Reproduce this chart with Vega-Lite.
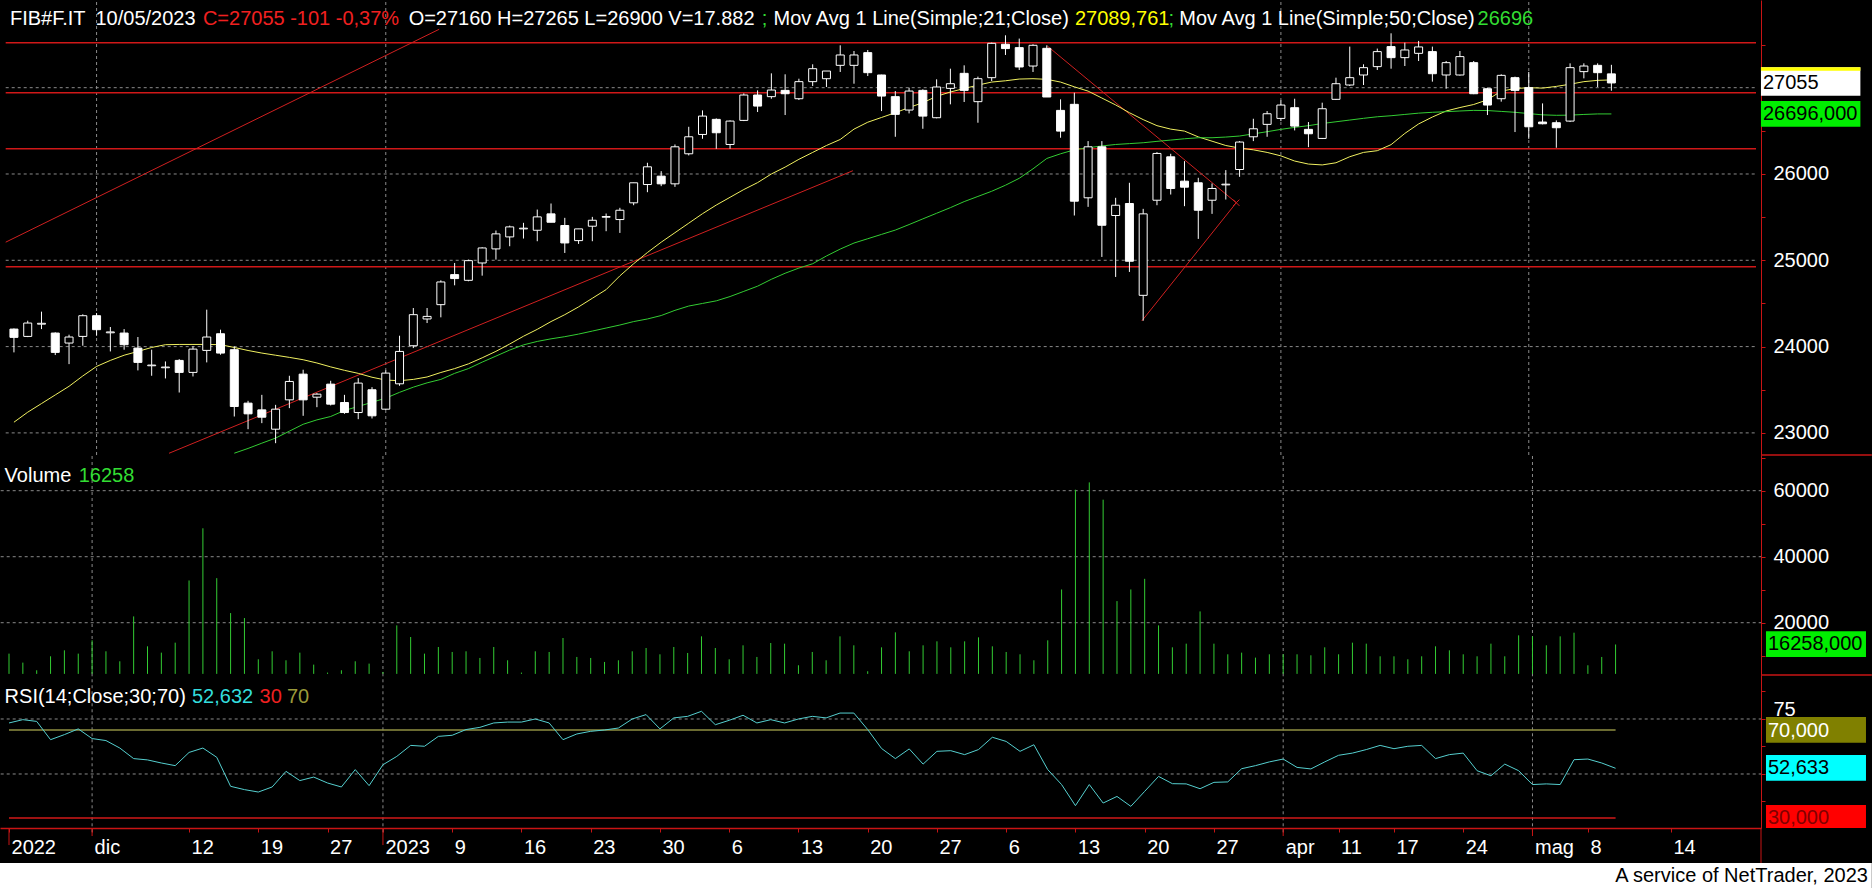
{
"$schema": "https://vega.github.io/schema/vega-lite/v6.json",
"background": "black",
"padding": 0,
"bounds": "flush",
"spacing": 0,
"config": {
 "view": {"stroke": null},
 "axis": {"labelFont": "Liberation Sans", "titleFont": "Liberation Sans"},
 "axisY": {"domainColor": "#c81414", "tickColor": "#c81414", "tickSize": 4, "labelColor": "white", "labelFontSize": 20, "labelPadding": 8, "labelAlign": "left", "labelBaseline": "middle", "grid": false, "labelBound": false, "labelFlush": false, "labelOverlap": false},
 "axisX": {"domainColor": "#c81414", "domainWidth": 1.5, "tickColor": "#c81414", "tickSize": 4, "labelColor": "white", "labelFontSize": 20, "labelPadding": 5, "labelAlign": "left", "labelBaseline": "top", "labelOffset": 2, "grid": false, "labelBound": false, "labelFlush": false, "labelOverlap": false},
 "text": {"font": "Liberation Sans", "fontSize": 20, "align": "left", "baseline": "alphabetic"}
},
"resolve": {"scale": {"x": "independent", "y": "independent"}, "axis": {"x": "independent", "y": "independent"}},
"datasets": {
 "tl": [
  {"g":"a","k":0,"i":-0.6,"p":25210},{"g":"a","k":1,"i":30.88,"p":27677},
  {"g":"b","k":0,"i":11.26,"p":22764},{"g":"b","k":1,"i":60.92,"p":26038},
  {"g":"c","k":0,"i":75.04,"p":27483},{"g":"c","k":1,"i":88.76,"p":25667},{"g":"c","k":2,"i":81.9,"p":24297}
 ],
 "bars": [
{"i":0,"o":24203,"h":24210,"l":23933,"c":24107,"m1":23124,"m5":null,"v":10629,"r":73.2},
{"i":1,"o":24118,"h":24300,"l":24110,"c":24273,"m1":23240,"m5":null,"v":7909,"r":74.7},
{"i":2,"o":24260,"h":24405,"l":24203,"c":24270,"m1":23340,"m5":null,"v":5591,"r":73.9},
{"i":3,"o":24157,"h":24165,"l":23902,"c":23933,"m1":23440,"m5":null,"v":9823,"r":65.6},
{"i":4,"o":24041,"h":24138,"l":23797,"c":24111,"m1":23540,"m5":null,"v":11637,"r":67.9},
{"i":5,"o":24118,"h":24374,"l":24010,"c":24358,"m1":23660,"m5":null,"v":10629,"r":70.5},
{"i":6,"o":24358,"h":24389,"l":24126,"c":24196,"m1":23770,"m5":null,"v":14660,"r":66.1},
{"i":7,"o":24160,"h":24227,"l":23944,"c":24170,"m1":23840,"m5":null,"v":11335,"r":65.2},
{"i":8,"o":24157,"h":24203,"l":23964,"c":24022,"m1":23900,"m5":null,"v":8312,"r":61.8},
{"i":9,"o":23983,"h":24111,"l":23724,"c":23817,"m1":23944,"m5":null,"v":21914,"r":57.0},
{"i":10,"o":23778,"h":23964,"l":23662,"c":23786,"m1":23990,"m5":null,"v":12846,"r":56.4},
{"i":11,"o":23755,"h":23828,"l":23631,"c":23763,"m1":24022,"m5":null,"v":10932,"r":55.0},
{"i":12,"o":23840,"h":23855,"l":23468,"c":23701,"m1":24025,"m5":null,"v":13954,"r":53.8},
{"i":13,"o":23701,"h":24002,"l":23654,"c":23971,"m1":24025,"m5":null,"v":32797,"r":59.8},
{"i":14,"o":23956,"h":24428,"l":23817,"c":24111,"m1":24025,"m5":null,"v":48616,"r":61.8},
{"i":15,"o":24149,"h":24196,"l":23906,"c":23925,"m1":24022,"m5":null,"v":33502,"r":57.6},
{"i":16,"o":23964,"h":24002,"l":23190,"c":23306,"m1":23990,"m5":22765,"v":22922,"r":44.4},
{"i":17,"o":23345,"h":23372,"l":23043,"c":23221,"m1":23955,"m5":22820,"v":21411,"r":42.9},
{"i":18,"o":23267,"h":23441,"l":23113,"c":23182,"m1":23925,"m5":22881,"v":8916,"r":41.8},
{"i":19,"o":23043,"h":23325,"l":22881,"c":23275,"m1":23900,"m5":22940,"v":11335,"r":44.1},
{"i":20,"o":23383,"h":23662,"l":23287,"c":23596,"m1":23875,"m5":23020,"v":8614,"r":51.2},
{"i":21,"o":23681,"h":23732,"l":23198,"c":23383,"m1":23848,"m5":23100,"v":10932,"r":47.0},
{"i":22,"o":23414,"h":23461,"l":23298,"c":23449,"m1":23810,"m5":23151,"v":7304,"r":48.6},
{"i":23,"o":23565,"h":23604,"l":23318,"c":23333,"m1":23765,"m5":23190,"v":4886,"r":45.9},
{"i":24,"o":23352,"h":23441,"l":23221,"c":23236,"m1":23725,"m5":23260,"v":5591,"r":44.1},
{"i":25,"o":23236,"h":23635,"l":23159,"c":23577,"m1":23690,"m5":23306,"v":8312,"r":52.0},
{"i":26,"o":23500,"h":23530,"l":23167,"c":23198,"m1":23645,"m5":23355,"v":7607,"r":44.7},
{"i":27,"o":23275,"h":23724,"l":23267,"c":23693,"m1":23612,"m5":23403,"v":5087,"r":54.2},
{"i":28,"o":23569,"h":24126,"l":23546,"c":23944,"m1":23605,"m5":23470,"v":19194,"r":58.0},
{"i":29,"o":24010,"h":24447,"l":23983,"c":24370,"m1":23620,"m5":23530,"v":15667,"r":63.0},
{"i":30,"o":24320,"h":24447,"l":24273,"c":24350,"m1":23648,"m5":23580,"v":10629,"r":62.6},
{"i":31,"o":24486,"h":24768,"l":24339,"c":24749,"m1":23700,"m5":23620,"v":12644,"r":67.1},
{"i":32,"o":24834,"h":24969,"l":24710,"c":24788,"m1":23745,"m5":23690,"v":11133,"r":67.6},
{"i":33,"o":24768,"h":25008,"l":24757,"c":24996,"m1":23800,"m5":23745,"v":11335,"r":70.2},
{"i":34,"o":24969,"h":25151,"l":24822,"c":25143,"m1":23870,"m5":23820,"v":9319,"r":71.2},
{"i":35,"o":25132,"h":25345,"l":25008,"c":25306,"m1":23945,"m5":23890,"v":12644,"r":73.2},
{"i":36,"o":25271,"h":25402,"l":25163,"c":25387,"m1":24030,"m5":23960,"v":8614,"r":73.6},
{"i":37,"o":25364,"h":25434,"l":25252,"c":25372,"m1":24120,"m5":24020,"v":4886,"r":73.6},
{"i":38,"o":25348,"h":25588,"l":25221,"c":25503,"m1":24200,"m5":24060,"v":11335,"r":75.0},
{"i":39,"o":25538,"h":25658,"l":25441,"c":25441,"m1":24290,"m5":24090,"v":11133,"r":73.2},
{"i":40,"o":25403,"h":25492,"l":25085,"c":25201,"m1":24370,"m5":24115,"v":15365,"r":65.6},
{"i":41,"o":25228,"h":25364,"l":25190,"c":25364,"m1":24460,"m5":24145,"v":9621,"r":68.2},
{"i":42,"o":25395,"h":25503,"l":25221,"c":25464,"m1":24560,"m5":24180,"v":9319,"r":69.4},
{"i":43,"o":25499,"h":25542,"l":25337,"c":25507,"m1":24660,"m5":24215,"v":8111,"r":70.0},
{"i":44,"o":25472,"h":25608,"l":25317,"c":25580,"m1":24820,"m5":24250,"v":8614,"r":70.9},
{"i":45,"o":25666,"h":25898,"l":25638,"c":25898,"m1":24960,"m5":24290,"v":11335,"r":75.0},
{"i":46,"o":25878,"h":26130,"l":25789,"c":26083,"m1":25090,"m5":24320,"v":12342,"r":77.0},
{"i":47,"o":25975,"h":26033,"l":25859,"c":25886,"m1":25210,"m5":24360,"v":10428,"r":70.5},
{"i":48,"o":25886,"h":26342,"l":25851,"c":26315,"m1":25320,"m5":24420,"v":12644,"r":75.5},
{"i":49,"o":26234,"h":26547,"l":26215,"c":26431,"m1":25430,"m5":24470,"v":10831,"r":76.2},
{"i":50,"o":26458,"h":26737,"l":26408,"c":26671,"m1":25540,"m5":24500,"v":15869,"r":78.5},
{"i":51,"o":26633,"h":26644,"l":26292,"c":26478,"m1":25640,"m5":24530,"v":12342,"r":72.4},
{"i":52,"o":26342,"h":26621,"l":26292,"c":26613,"m1":25730,"m5":24580,"v":8916,"r":74.4},
{"i":53,"o":26621,"h":26934,"l":26613,"c":26915,"m1":25820,"m5":24640,"v":13148,"r":76.7},
{"i":54,"o":26915,"h":26969,"l":26718,"c":26787,"m1":25900,"m5":24700,"v":9621,"r":73.2},
{"i":55,"o":26896,"h":27166,"l":26872,"c":26973,"m1":26000,"m5":24780,"v":13853,"r":74.7},
{"i":56,"o":26969,"h":27155,"l":26683,"c":26930,"m1":26080,"m5":24850,"v":13652,"r":73.2},
{"i":57,"o":26872,"h":27104,"l":26857,"c":27070,"m1":26170,"m5":24910,"v":7103,"r":75.0},
{"i":58,"o":27070,"h":27271,"l":27019,"c":27220,"m1":26250,"m5":24960,"v":11133,"r":76.2},
{"i":59,"o":27104,"h":27193,"l":27008,"c":27193,"m1":26330,"m5":25050,"v":8614,"r":75.5},
{"i":60,"o":27259,"h":27491,"l":27182,"c":27379,"m1":26400,"m5":25130,"v":15869,"r":77.7},
{"i":61,"o":27259,"h":27425,"l":27046,"c":27379,"m1":26520,"m5":25200,"v":13148,"r":77.7},
{"i":62,"o":27406,"h":27437,"l":27135,"c":27174,"m1":26600,"m5":25250,"v":5289,"r":70.2},
{"i":63,"o":27147,"h":27150,"l":26729,"c":26903,"m1":26655,"m5":25300,"v":12540,"r":61.6},
{"i":64,"o":26896,"h":26961,"l":26431,"c":26691,"m1":26710,"m5":25350,"v":17080,"r":57.0},
{"i":65,"o":26741,"h":27000,"l":26702,"c":26961,"m1":26770,"m5":25414,"v":11335,"r":61.4},
{"i":66,"o":26969,"h":26981,"l":26524,"c":26671,"m1":26826,"m5":25480,"v":13148,"r":54.5},
{"i":67,"o":26652,"h":27097,"l":26645,"c":27008,"m1":26900,"m5":25545,"v":14358,"r":60.3},
{"i":68,"o":26992,"h":27220,"l":26807,"c":27046,"m1":26950,"m5":25610,"v":12544,"r":60.6},
{"i":69,"o":27166,"h":27259,"l":26834,"c":26969,"m1":26990,"m5":25680,"v":14358,"r":58.8},
{"i":70,"o":26838,"h":27128,"l":26594,"c":27104,"m1":27030,"m5":25740,"v":15567,"r":61.1},
{"i":71,"o":27116,"h":27522,"l":27077,"c":27514,"m1":27065,"m5":25800,"v":12846,"r":66.7},
{"i":72,"o":27503,"h":27607,"l":27379,"c":27453,"m1":27080,"m5":25870,"v":11133,"r":64.8},
{"i":73,"o":27464,"h":27569,"l":27205,"c":27240,"m1":27100,"m5":25950,"v":10428,"r":60.3},
{"i":74,"o":27251,"h":27503,"l":27182,"c":27491,"m1":27104,"m5":26060,"v":8614,"r":63.3},
{"i":75,"o":27456,"h":27491,"l":26892,"c":26892,"m1":27097,"m5":26180,"v":14660,"r":52.0},
{"i":76,"o":26737,"h":26865,"l":26420,"c":26497,"m1":27065,"m5":26234,"v":30076,"r":45.2},
{"i":77,"o":26807,"h":26942,"l":25519,"c":25685,"m1":27010,"m5":26280,"v":60304,"r":35.6},
{"i":78,"o":25724,"h":26381,"l":25619,"c":26315,"m1":26960,"m5":26304,"v":62521,"r":45.2},
{"i":79,"o":26315,"h":26381,"l":25039,"c":25406,"m1":26880,"m5":26325,"v":57281,"r":36.8},
{"i":80,"o":25519,"h":25724,"l":24807,"c":25638,"m1":26800,"m5":26342,"v":26549,"r":39.8},
{"i":81,"o":25658,"h":25898,"l":24865,"c":24989,"m1":26710,"m5":26352,"v":30076,"r":35.3},
{"i":82,"o":24594,"h":25596,"l":24300,"c":25538,"m1":26630,"m5":26362,"v":33300,"r":42.1},
{"i":83,"o":25696,"h":26253,"l":25638,"c":26238,"m1":26560,"m5":26378,"v":19194,"r":48.9},
{"i":84,"o":26199,"h":26234,"l":25762,"c":25832,"m1":26520,"m5":26393,"v":12544,"r":45.6},
{"i":85,"o":25917,"h":26149,"l":25627,"c":25847,"m1":26497,"m5":26408,"v":13652,"r":45.5},
{"i":86,"o":25898,"h":25956,"l":25248,"c":25580,"m1":26430,"m5":26420,"v":23426,"r":43.3},
{"i":87,"o":25696,"h":25890,"l":25538,"c":25832,"m1":26380,"m5":26420,"v":13652,"r":46.2},
{"i":88,"o":25874,"h":26045,"l":25704,"c":25882,"m1":26330,"m5":26428,"v":10428,"r":46.4},
{"i":89,"o":26052,"h":26381,"l":25967,"c":26370,"m1":26300,"m5":26440,"v":10932,"r":52.4},
{"i":90,"o":26431,"h":26640,"l":26381,"c":26524,"m1":26280,"m5":26465,"v":9420,"r":53.8},
{"i":91,"o":26575,"h":26729,"l":26431,"c":26698,"m1":26250,"m5":26490,"v":10428,"r":55.5},
{"i":92,"o":26644,"h":26853,"l":26613,"c":26799,"m1":26210,"m5":26517,"v":10428,"r":56.8},
{"i":93,"o":26768,"h":26872,"l":26505,"c":26555,"m1":26150,"m5":26540,"v":10428,"r":53.0},
{"i":94,"o":26517,"h":26602,"l":26311,"c":26466,"m1":26115,"m5":26560,"v":10125,"r":52.3},
{"i":95,"o":26412,"h":26826,"l":26405,"c":26756,"m1":26105,"m5":26585,"v":12544,"r":55.5},
{"i":96,"o":26865,"h":27116,"l":26857,"c":27046,"m1":26130,"m5":26605,"v":10428,"r":58.5},
{"i":97,"o":27031,"h":27476,"l":27019,"c":27116,"m1":26200,"m5":26625,"v":13954,"r":59.5},
{"i":98,"o":27147,"h":27271,"l":27031,"c":27232,"m1":26250,"m5":26645,"v":13652,"r":61.1},
{"i":99,"o":27244,"h":27453,"l":27205,"c":27418,"m1":26270,"m5":26663,"v":9823,"r":63.0},
{"i":100,"o":27476,"h":27630,"l":27220,"c":27348,"m1":26340,"m5":26675,"v":9823,"r":61.5},
{"i":101,"o":27348,"h":27522,"l":27251,"c":27437,"m1":26470,"m5":26690,"v":8916,"r":62.6},
{"i":102,"o":27398,"h":27542,"l":27309,"c":27472,"m1":26580,"m5":26705,"v":9823,"r":63.0},
{"i":103,"o":27418,"h":27476,"l":27070,"c":27162,"m1":26660,"m5":26715,"v":12846,"r":57.0},
{"i":104,"o":27147,"h":27309,"l":26988,"c":27290,"m1":26730,"m5":26722,"v":11637,"r":58.8},
{"i":105,"o":27147,"h":27425,"l":27140,"c":27360,"m1":26770,"m5":26730,"v":10428,"r":59.5},
{"i":106,"o":27290,"h":27309,"l":26925,"c":26930,"m1":26805,"m5":26737,"v":9823,"r":51.5},
{"i":107,"o":26988,"h":27000,"l":26683,"c":26799,"m1":26860,"m5":26735,"v":13652,"r":49.2},
{"i":108,"o":26872,"h":27155,"l":26838,"c":27143,"m1":26960,"m5":26725,"v":9823,"r":54.5},
{"i":109,"o":27116,"h":27128,"l":26486,"c":26969,"m1":26990,"m5":26715,"v":16171,"r":51.5},
{"i":110,"o":27000,"h":27182,"l":26408,"c":26547,"m1":27000,"m5":26700,"v":15869,"r":45.2},
{"i":111,"o":26602,"h":26818,"l":26575,"c":26582,"m1":26995,"m5":26685,"v":13148,"r":45.5},
{"i":112,"o":26594,"h":26621,"l":26304,"c":26536,"m1":27015,"m5":26680,"v":15869,"r":45.2},
{"i":113,"o":26613,"h":27282,"l":26602,"c":27232,"m1":27040,"m5":26682,"v":16977,"r":56.5},
{"i":114,"o":27186,"h":27282,"l":27108,"c":27251,"m1":27070,"m5":26690,"v":7103,"r":56.8},
{"i":115,"o":27259,"h":27282,"l":27008,"c":27174,"m1":27085,"m5":26696,"v":9621,"r":55.0},
{"i":116,"o":27160,"h":27265,"l":26965,"c":27055,"m1":27090,"m5":26696,"v":13400,"r":52.6}
 ]
},
"vconcat": [
{
 "width": 1761, "height": 455,
 "resolve": {"axis": {"x": "independent", "y": "independent"}},
 "layer": [
  {"data": {"values": [{"p":23000},{"p":24000},{"p":25000},{"p":26000},{"p":27000}]},
   "mark": {"type": "rule", "color": "#8a8a8a", "strokeDash": [3,3], "strokeWidth": 1},
   "encoding": {
    "y": {"field": "p", "type": "quantitative", "title": null, "scale": {"domain": [22744,28016], "nice": false, "zero": false},
          "axis": {"orient": "right", "values": [23000,23500,24000,24500,25000,25500,26000,26500,27000,27500], "format": "d", "labelExpr": "datum.value % 1000 === 0 && datum.value < 27000 ? datum.label : ''"}},
    "x": {"datum": -0.6, "type": "quantitative", "scale": {"domain": [-0.65,126.5], "nice": false, "zero": false}, "axis": null},
    "x2": {"datum": 126.5}}},
  {"data": {"values": [{"i":6},{"i":27},{"i":92},{"i":110}]},
   "mark": {"type": "rule", "color": "#8a8a8a", "strokeDash": [3,3], "strokeWidth": 1},
   "encoding": {
    "x": {"field": "i", "type": "quantitative", "scale": {"domain": [-0.65,126.5], "nice": false, "zero": false}, "axis": null},
    "y": {"datum": 22744, "type": "quantitative", "scale": {"domain": [22744,28016], "nice": false, "zero": false}, "axis": null},
    "y2": {"datum": 28005}}},
  {"data": {"values": [{"p":27521},{"p":26942},{"p":26293},{"p":24926}]},
   "mark": {"type": "rule", "color": "#d01818", "strokeWidth": 1.5},
   "encoding": {
    "y": {"field": "p", "type": "quantitative", "scale": {"domain": [22744,28016], "nice": false, "zero": false}, "axis": null},
    "x": {"datum": -0.6, "type": "quantitative", "scale": {"domain": [-0.65,126.5], "nice": false, "zero": false}, "axis": null},
    "x2": {"datum": 126.5}}},
  {"data": {"name": "tl"},
   "mark": {"type": "line", "color": "#d02020", "strokeWidth": 1},
   "encoding": {
    "x": {"field": "i", "type": "quantitative", "scale": {"domain": [-0.65,126.5], "nice": false, "zero": false}, "axis": null},
    "y": {"field": "p", "type": "quantitative", "scale": {"domain": [22744,28016], "nice": false, "zero": false}, "axis": null},
    "detail": {"field": "g", "type": "nominal"},
    "order": {"field": "k", "type": "quantitative"}}},
  {"data": {"values": [{}]},
   "mark": {"type": "point", "shape": "M-1,-1L1,1M1,-1L-1,1", "size": 40, "color": "#d02020", "filled": false, "strokeWidth": 1, "opacity": 1},
   "encoding": {
    "x": {"datum": 88.76, "type": "quantitative", "scale": {"domain": [-0.65,126.5], "nice": false, "zero": false}, "axis": null},
    "y": {"datum": 25667, "type": "quantitative", "scale": {"domain": [22744,28016], "nice": false, "zero": false}, "axis": null}}},
  {"data": {"name": "bars"},
   "mark": {"type": "line", "color": "#f0f060", "strokeWidth": 1},
   "encoding": {
    "x": {"field": "i", "type": "quantitative", "scale": {"domain": [-0.65,126.5], "nice": false, "zero": false}, "axis": null},
    "y": {"field": "m1", "type": "quantitative", "scale": {"domain": [22744,28016], "nice": false, "zero": false}, "axis": null}}},
  {"data": {"name": "bars"},
   "mark": {"type": "line", "color": "#33cc33", "strokeWidth": 1},
   "encoding": {
    "x": {"field": "i", "type": "quantitative", "scale": {"domain": [-0.65,126.5], "nice": false, "zero": false}, "axis": null},
    "y": {"field": "m5", "type": "quantitative", "scale": {"domain": [22744,28016], "nice": false, "zero": false}, "axis": null}}},
  {"data": {"name": "bars"},
   "mark": {"type": "rule", "color": "white", "strokeWidth": 1},
   "encoding": {
    "x": {"field": "i", "type": "quantitative", "scale": {"domain": [-0.65,126.5], "nice": false, "zero": false}, "axis": null},
    "y": {"field": "l", "type": "quantitative", "scale": {"domain": [22744,28016], "nice": false, "zero": false}, "axis": null},
    "y2": {"field": "h"}}},
  {"data": {"name": "bars"},
   "mark": {"type": "bar", "size": 8, "stroke": "white", "strokeWidth": 1},
   "encoding": {
    "x": {"field": "i", "type": "quantitative", "scale": {"domain": [-0.65,126.5], "nice": false, "zero": false}, "axis": null},
    "y": {"field": "o", "type": "quantitative", "scale": {"domain": [22744,28016], "nice": false, "zero": false}, "axis": null},
    "y2": {"field": "c"},
    "fill": {"condition": {"test": "datum.c < datum.o", "value": "white"}, "value": "black"}}},
  {"data": {"values": [{}]}, "mark": {"type": "text", "color": "white", "text": "FIB#F.IT"},
   "encoding": {"x": {"datum": -0.289, "type": "quantitative", "scale": {"domain": [-0.65,126.5], "nice": false, "zero": false}, "axis": null},
    "y": {"datum": 27727, "type": "quantitative", "scale": {"domain": [22744,28016], "nice": false, "zero": false}, "axis": null}}},
  {"data": {"values": [{}]}, "mark": {"type": "text", "color": "white", "text": "10/05/2023"},
   "encoding": {"x": {"datum": 5.92, "type": "quantitative", "scale": {"domain": [-0.65,126.5], "nice": false, "zero": false}, "axis": null},
    "y": {"datum": 27727, "type": "quantitative", "scale": {"domain": [22744,28016], "nice": false, "zero": false}, "axis": null}}},
  {"data": {"values": [{}]}, "mark": {"type": "text", "color": "#f02020", "text": "C=27055 -101 -0,37%"},
   "encoding": {"x": {"datum": 13.72, "type": "quantitative", "scale": {"domain": [-0.65,126.5], "nice": false, "zero": false}, "axis": null},
    "y": {"datum": 27727, "type": "quantitative", "scale": {"domain": [22744,28016], "nice": false, "zero": false}, "axis": null}}},
  {"data": {"values": [{}]}, "mark": {"type": "text", "color": "white", "text": "O=27160 H=27265 L=26900 V=17.882"},
   "encoding": {"x": {"datum": 28.66, "type": "quantitative", "scale": {"domain": [-0.65,126.5], "nice": false, "zero": false}, "axis": null},
    "y": {"datum": 27727, "type": "quantitative", "scale": {"domain": [22744,28016], "nice": false, "zero": false}, "axis": null}}},
  {"data": {"values": [{}]}, "mark": {"type": "text", "color": "#33dd33", "text": ";"},
   "encoding": {"x": {"datum": 54.3, "type": "quantitative", "scale": {"domain": [-0.65,126.5], "nice": false, "zero": false}, "axis": null},
    "y": {"datum": 27727, "type": "quantitative", "scale": {"domain": [22744,28016], "nice": false, "zero": false}, "axis": null}}},
  {"data": {"values": [{}]}, "mark": {"type": "text", "color": "white", "text": "Mov Avg 1 Line(Simple;21;Close)"},
   "encoding": {"x": {"datum": 55.16, "type": "quantitative", "scale": {"domain": [-0.65,126.5], "nice": false, "zero": false}, "axis": null},
    "y": {"datum": 27727, "type": "quantitative", "scale": {"domain": [22744,28016], "nice": false, "zero": false}, "axis": null}}},
  {"data": {"values": [{}]}, "mark": {"type": "text", "color": "#ffff00", "text": "27089,761"},
   "encoding": {"x": {"datum": 77.04, "type": "quantitative", "scale": {"domain": [-0.65,126.5], "nice": false, "zero": false}, "axis": null},
    "y": {"datum": 27727, "type": "quantitative", "scale": {"domain": [22744,28016], "nice": false, "zero": false}, "axis": null}}},
  {"data": {"values": [{}]}, "mark": {"type": "text", "color": "#33dd33", "text": ";"},
   "encoding": {"x": {"datum": 83.83, "type": "quantitative", "scale": {"domain": [-0.65,126.5], "nice": false, "zero": false}, "axis": null},
    "y": {"datum": 27727, "type": "quantitative", "scale": {"domain": [22744,28016], "nice": false, "zero": false}, "axis": null}}},
  {"data": {"values": [{}]}, "mark": {"type": "text", "color": "white", "text": "Mov Avg 1 Line(Simple;50;Close)"},
   "encoding": {"x": {"datum": 84.62, "type": "quantitative", "scale": {"domain": [-0.65,126.5], "nice": false, "zero": false}, "axis": null},
    "y": {"datum": 27727, "type": "quantitative", "scale": {"domain": [22744,28016], "nice": false, "zero": false}, "axis": null}}},
  {"data": {"values": [{}]}, "mark": {"type": "text", "color": "#33dd33", "text": "26696"},
   "encoding": {"x": {"datum": 106.28, "type": "quantitative", "scale": {"domain": [-0.65,126.5], "nice": false, "zero": false}, "axis": null},
    "y": {"datum": 27727, "type": "quantitative", "scale": {"domain": [22744,28016], "nice": false, "zero": false}, "axis": null}}},
  {"data": {"values": [{}]}, "mark": {"type": "rect", "color": "white"},
   "encoding": {"x": {"datum": 126.86, "type": "quantitative", "scale": {"domain": [-0.65,126.5], "nice": false, "zero": false}, "axis": null}, "x2": {"datum": 134.08},
    "y": {"datum": 27236, "type": "quantitative", "scale": {"domain": [22744,28016], "nice": false, "zero": false}, "axis": null}, "y2": {"datum": 26907}}},
  {"data": {"values": [{}]}, "mark": {"type": "rect", "color": "#ffff00"},
   "encoding": {"x": {"datum": 126.86, "type": "quantitative", "scale": {"domain": [-0.65,126.5], "nice": false, "zero": false}, "axis": null}, "x2": {"datum": 134.08},
    "y": {"datum": 27236, "type": "quantitative", "scale": {"domain": [22744,28016], "nice": false, "zero": false}, "axis": null}, "y2": {"datum": 27197}}},
  {"data": {"values": [{}]}, "mark": {"type": "text", "color": "black", "text": "27055", "baseline": "middle"},
   "encoding": {"x": {"datum": 127.0, "type": "quantitative", "scale": {"domain": [-0.65,126.5], "nice": false, "zero": false}, "axis": null},
    "y": {"datum": 27050, "type": "quantitative", "scale": {"domain": [22744,28016], "nice": false, "zero": false}, "axis": null}}},
  {"data": {"values": [{}]}, "mark": {"type": "rect", "color": "#00ee00"},
   "encoding": {"x": {"datum": 126.86, "type": "quantitative", "scale": {"domain": [-0.65,126.5], "nice": false, "zero": false}, "axis": null}, "x2": {"datum": 134.08},
    "y": {"datum": 26846, "type": "quantitative", "scale": {"domain": [22744,28016], "nice": false, "zero": false}, "axis": null}, "y2": {"datum": 26548}}},
  {"data": {"values": [{}]}, "mark": {"type": "text", "color": "black", "text": "26696,000", "baseline": "middle"},
   "encoding": {"x": {"datum": 127.0, "type": "quantitative", "scale": {"domain": [-0.65,126.5], "nice": false, "zero": false}, "axis": null},
    "y": {"datum": 26696, "type": "quantitative", "scale": {"domain": [22744,28016], "nice": false, "zero": false}, "axis": null}}}
 ]
},
{
 "width": 1761, "height": 220,
 "resolve": {"axis": {"x": "independent", "y": "independent"}},
 "layer": [
  {"data": {"values": [{"p":20000},{"p":40000},{"p":60000}]},
   "mark": {"type": "rule", "color": "#8a8a8a", "strokeDash": [3,3], "strokeWidth": 1},
   "encoding": {
    "y": {"field": "p", "type": "quantitative", "title": null, "scale": {"domain": [4157,70818], "nice": false, "zero": false},
          "axis": {"orient": "right", "values": [10000,20000,30000,40000,50000,60000,70000], "format": "d", "labelExpr": "datum.value % 20000 === 0 ? datum.label : ''"}},
    "x": {"datum": -0.6, "type": "quantitative", "scale": {"domain": [-0.65,126.5], "nice": false, "zero": false}, "axis": null},
    "x2": {"datum": 126.5}}},
  {"data": {"values": [{"i":6},{"i":27},{"i":92},{"i":110}]},
   "mark": {"type": "rule", "color": "#8a8a8a", "strokeDash": [3,3], "strokeWidth": 1},
   "encoding": {
    "x": {"field": "i", "type": "quantitative", "scale": {"domain": [-0.65,126.5], "nice": false, "zero": false}, "axis": null},
    "y": {"datum": 4157, "type": "quantitative", "scale": {"domain": [4157,70818], "nice": false, "zero": false}, "axis": null},
    "y2": {"datum": 70818}}},
  {"data": {"name": "bars"},
   "mark": {"type": "rule", "color": "#33cc33", "strokeWidth": 1},
   "encoding": {
    "x": {"field": "i", "type": "quantitative", "scale": {"domain": [-0.65,126.5], "nice": false, "zero": false}, "axis": null},
    "y": {"field": "v", "type": "quantitative", "scale": {"domain": [4157,70818], "nice": false, "zero": false}, "axis": null},
    "y2": {"datum": 4500}}},
  {"data": {"values": [{}]}, "mark": {"type": "text", "color": "white", "text": "Volume"},
   "encoding": {"x": {"datum": -0.318, "type": "quantitative", "scale": {"domain": [-0.65,126.5], "nice": false, "zero": false}, "axis": null},
    "y": {"datum": 62728, "type": "quantitative", "scale": {"domain": [4157,70818], "nice": false, "zero": false}, "axis": null}}},
  {"data": {"values": [{}]}, "mark": {"type": "text", "color": "#33dd33", "text": "16258"},
   "encoding": {"x": {"datum": 5.03, "type": "quantitative", "scale": {"domain": [-0.65,126.5], "nice": false, "zero": false}, "axis": null},
    "y": {"datum": 62728, "type": "quantitative", "scale": {"domain": [4157,70818], "nice": false, "zero": false}, "axis": null}}},
  {"data": {"values": [{}]}, "mark": {"type": "rule", "color": "#c81414", "strokeWidth": 1.5},
   "encoding": {"x": {"datum": 126.5, "type": "quantitative", "scale": {"domain": [-0.65,126.5], "nice": false, "zero": false}, "axis": null}, "x2": {"datum": 134.5},
    "y": {"datum": 70818, "type": "quantitative", "scale": {"domain": [4157,70818], "nice": false, "zero": false}, "axis": null}}},
  {"data": {"values": [{}]}, "mark": {"type": "rect", "color": "#00ee00"},
   "encoding": {"x": {"datum": 126.86, "type": "quantitative", "scale": {"domain": [-0.65,126.5], "nice": false, "zero": false}, "axis": null}, "x2": {"datum": 134.08},
    "y": {"datum": 17394, "type": "quantitative", "scale": {"domain": [4157,70818], "nice": false, "zero": false}, "axis": null}, "y2": {"datum": 9606}}},
  {"data": {"values": [{}]}, "mark": {"type": "text", "color": "black", "text": "16258,000", "baseline": "middle"},
   "encoding": {"x": {"datum": 127.0, "type": "quantitative", "scale": {"domain": [-0.65,126.5], "nice": false, "zero": false}, "axis": null},
    "y": {"datum": 13500, "type": "quantitative", "scale": {"domain": [4157,70818], "nice": false, "zero": false}, "axis": null}}}
 ]
},
{
 "width": 1761, "height": 153,
 "resolve": {"axis": {"x": "independent", "y": "independent"}},
 "layer": [
  {"data": {"values": [{"p":75},{"p":50}]},
   "mark": {"type": "rule", "color": "#8a8a8a", "strokeDash": [3,3], "strokeWidth": 1},
   "encoding": {
    "y": {"field": "p", "type": "quantitative", "title": null, "scale": {"domain": [25.45,95], "nice": false, "zero": false},
          "axis": {"orient": "right", "values": [25,37.5,50,62.5,75,87.5], "labelOffset": -9, "labelExpr": "datum.value === 75 ? datum.label : ''"}},
    "x": {"datum": -0.6, "type": "quantitative", "scale": {"domain": [-0.65,126.5], "nice": false, "zero": false}, "axis": null},
    "x2": {"datum": 126.5}}},
  {"data": {"values": [{"i":6},{"i":27},{"i":92},{"i":110}]},
   "mark": {"type": "rule", "color": "#8a8a8a", "strokeDash": [3,3], "strokeWidth": 1},
   "encoding": {
    "x": {"field": "i", "type": "quantitative", "scale": {"domain": [-0.65,126.5], "nice": false, "zero": false}, "axis": null},
    "y": {"datum": 23.5, "type": "quantitative", "scale": {"domain": [25.45,95], "nice": false, "zero": false}, "axis": null},
    "y2": {"datum": 95}}},
  {"data": {"values": [{}]}, "mark": {"type": "rule", "color": "#8f8f42", "strokeWidth": 1.5},
   "encoding": {"x": {"datum": 0, "type": "quantitative", "scale": {"domain": [-0.65,126.5], "nice": false, "zero": false}, "axis": null}, "x2": {"datum": 116},
    "y": {"datum": 70, "type": "quantitative", "scale": {"domain": [25.45,95], "nice": false, "zero": false}, "axis": null}}},
  {"data": {"values": [{}]}, "mark": {"type": "rule", "color": "#d01818", "strokeWidth": 1.5},
   "encoding": {"x": {"datum": 0, "type": "quantitative", "scale": {"domain": [-0.65,126.5], "nice": false, "zero": false}, "axis": null}, "x2": {"datum": 116},
    "y": {"datum": 30, "type": "quantitative", "scale": {"domain": [25.45,95], "nice": false, "zero": false}, "axis": null}}},
  {"data": {"name": "bars"},
   "mark": {"type": "line", "color": "#55cfcf", "strokeWidth": 1},
   "encoding": {
    "x": {"field": "i", "type": "quantitative", "title": null, "scale": {"domain": [-0.65,126.5], "nice": false, "zero": false},
          "axis": {"orient": "bottom", "values": [0,6,13,18,23,27,32,37,42,47,52,57,62,67,72,77,82,87,92,96,100,105,110,114,120],
                   "labelExpr": "['2022','dic','12','19','27','2023','9','16','23','30','6','13','20','27','6','13','20','27','apr','11','17','24','mag','8','14'][indexof([0,6,13,18,23,27,32,37,42,47,52,57,62,67,72,77,82,87,92,96,100,105,110,114,120], datum.value)]"}},
    "y": {"field": "r", "type": "quantitative", "scale": {"domain": [25.45,95], "nice": false, "zero": false}, "axis": null}}},
  {"data": {"values": [{"i":6},{"i":92},{"i":110}]},
   "mark": {"type": "rule", "color": "#c81414", "strokeWidth": 1},
   "encoding": {"x": {"field": "i", "type": "quantitative", "scale": {"domain": [-0.65,126.5], "nice": false, "zero": false}, "axis": null},
    "y": {"datum": 25.45, "type": "quantitative", "scale": {"domain": [25.45,95], "nice": false, "zero": false}, "axis": null}, "y2": {"datum": 21.8}}},
  {"data": {"values": [{"i":0},{"i":27}]},
   "mark": {"type": "rule", "color": "#c81414", "strokeWidth": 1},
   "encoding": {"x": {"field": "i", "type": "quantitative", "scale": {"domain": [-0.65,126.5], "nice": false, "zero": false}, "axis": null},
    "y": {"datum": 25.45, "type": "quantitative", "scale": {"domain": [25.45,95], "nice": false, "zero": false}, "axis": null}, "y2": {"datum": 17.7}}},
  {"data": {"values": [{}]}, "mark": {"type": "rule", "color": "#c81414", "strokeWidth": 1},
   "encoding": {"x": {"datum": 126.5, "type": "quantitative", "scale": {"domain": [-0.65,126.5], "nice": false, "zero": false}, "axis": null},
    "y": {"datum": 25.45, "type": "quantitative", "scale": {"domain": [25.45,95], "nice": false, "zero": false}, "axis": null}, "y2": {"datum": 9.545}}},
  {"data": {"values": [{}]}, "mark": {"type": "rect", "color": "white"},
   "encoding": {"x": {"datum": -0.65, "type": "quantitative", "scale": {"domain": [-0.65,126.5], "nice": false, "zero": false}, "axis": null}, "x2": {"datum": 134.5},
    "y": {"datum": 9.545, "type": "quantitative", "scale": {"domain": [25.45,95], "nice": false, "zero": false}, "axis": null}, "y2": {"datum": -1.8}}},
  {"data": {"values": [{}]}, "mark": {"type": "text", "color": "black", "text": "A service of NetTrader, 2023", "align": "right"},
   "encoding": {"x": {"datum": 134.22, "type": "quantitative", "scale": {"domain": [-0.65,126.5], "nice": false, "zero": false}, "axis": null},
    "y": {"datum": 1.1, "type": "quantitative", "scale": {"domain": [25.45,95], "nice": false, "zero": false}, "axis": null}}},
  {"data": {"values": [{}]}, "mark": {"type": "text", "color": "white", "text": "RSI(14;Close;30;70)"},
   "encoding": {"x": {"datum": -0.318, "type": "quantitative", "scale": {"domain": [-0.65,126.5], "nice": false, "zero": false}, "axis": null},
    "y": {"datum": 82.27, "type": "quantitative", "scale": {"domain": [25.45,95], "nice": false, "zero": false}, "axis": null}}},
  {"data": {"values": [{}]}, "mark": {"type": "text", "color": "#33dddd", "text": "52,632"},
   "encoding": {"x": {"datum": 13.21, "type": "quantitative", "scale": {"domain": [-0.65,126.5], "nice": false, "zero": false}, "axis": null},
    "y": {"datum": 82.27, "type": "quantitative", "scale": {"domain": [25.45,95], "nice": false, "zero": false}, "axis": null}}},
  {"data": {"values": [{}]}, "mark": {"type": "text", "color": "#ee2020", "text": "30"},
   "encoding": {"x": {"datum": 18.09, "type": "quantitative", "scale": {"domain": [-0.65,126.5], "nice": false, "zero": false}, "axis": null},
    "y": {"datum": 82.27, "type": "quantitative", "scale": {"domain": [25.45,95], "nice": false, "zero": false}, "axis": null}}},
  {"data": {"values": [{}]}, "mark": {"type": "text", "color": "#9a9a3a", "text": "70"},
   "encoding": {"x": {"datum": 20.07, "type": "quantitative", "scale": {"domain": [-0.65,126.5], "nice": false, "zero": false}, "axis": null},
    "y": {"datum": 82.27, "type": "quantitative", "scale": {"domain": [25.45,95], "nice": false, "zero": false}, "axis": null}}},
  {"data": {"values": [{}]}, "mark": {"type": "rule", "color": "#c81414", "strokeWidth": 1.5},
   "encoding": {"x": {"datum": 126.5, "type": "quantitative", "scale": {"domain": [-0.65,126.5], "nice": false, "zero": false}, "axis": null}, "x2": {"datum": 134.5},
    "y": {"datum": 95, "type": "quantitative", "scale": {"domain": [25.45,95], "nice": false, "zero": false}, "axis": null}}},
  {"data": {"values": [{}]}, "mark": {"type": "rect", "color": "#808000"},
   "encoding": {"x": {"datum": 126.86, "type": "quantitative", "scale": {"domain": [-0.65,126.5], "nice": false, "zero": false}, "axis": null}, "x2": {"datum": 134.08},
    "y": {"datum": 75.9, "type": "quantitative", "scale": {"domain": [25.45,95], "nice": false, "zero": false}, "axis": null}, "y2": {"datum": 64.2}}},
  {"data": {"values": [{}]}, "mark": {"type": "text", "color": "white", "text": "70,000", "baseline": "middle"},
   "encoding": {"x": {"datum": 127.0, "type": "quantitative", "scale": {"domain": [-0.65,126.5], "nice": false, "zero": false}, "axis": null},
    "y": {"datum": 69.6, "type": "quantitative", "scale": {"domain": [25.45,95], "nice": false, "zero": false}, "axis": null}}},
  {"data": {"values": [{}]}, "mark": {"type": "rect", "color": "#00ffff"},
   "encoding": {"x": {"datum": 126.86, "type": "quantitative", "scale": {"domain": [-0.65,126.5], "nice": false, "zero": false}, "axis": null}, "x2": {"datum": 134.08},
    "y": {"datum": 58.6, "type": "quantitative", "scale": {"domain": [25.45,95], "nice": false, "zero": false}, "axis": null}, "y2": {"datum": 46.95}}},
  {"data": {"values": [{}]}, "mark": {"type": "text", "color": "black", "text": "52,633", "baseline": "middle"},
   "encoding": {"x": {"datum": 127.0, "type": "quantitative", "scale": {"domain": [-0.65,126.5], "nice": false, "zero": false}, "axis": null},
    "y": {"datum": 52.73, "type": "quantitative", "scale": {"domain": [25.45,95], "nice": false, "zero": false}, "axis": null}}},
  {"data": {"values": [{}]}, "mark": {"type": "rect", "color": "#ff0000"},
   "encoding": {"x": {"datum": 126.86, "type": "quantitative", "scale": {"domain": [-0.65,126.5], "nice": false, "zero": false}, "axis": null}, "x2": {"datum": 134.08},
    "y": {"datum": 35.9, "type": "quantitative", "scale": {"domain": [25.45,95], "nice": false, "zero": false}, "axis": null}, "y2": {"datum": 25.45}}},
  {"data": {"values": [{}]}, "mark": {"type": "text", "color": "#800000", "text": "30,000", "baseline": "middle"},
   "encoding": {"x": {"datum": 127.0, "type": "quantitative", "scale": {"domain": [-0.65,126.5], "nice": false, "zero": false}, "axis": null},
    "y": {"datum": 30, "type": "quantitative", "scale": {"domain": [25.45,95], "nice": false, "zero": false}, "axis": null}}}
 ]
}
]
}
